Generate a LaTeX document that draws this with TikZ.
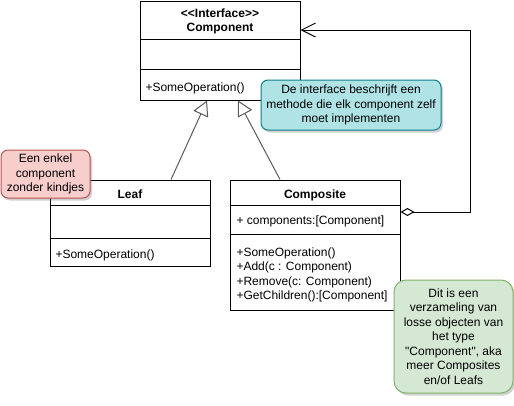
\documentclass[tikz,border=0pt]{standalone}
\usepackage{fontspec}
\newfontfamily\uifont{Liberation Sans}
\usetikzlibrary{arrows.meta, calc, shadows}

\definecolor{notered}{HTML}{F8CECC}
\definecolor{noteredline}{HTML}{B85450}
\definecolor{noteteal}{HTML}{B0E3E6}
\definecolor{notetealline}{HTML}{0E8088}
\definecolor{notegreen}{HTML}{D5E8D4}
\definecolor{notegreenline}{HTML}{82B366}

\begin{document}
\begin{tikzpicture}[x = 1pt, y = -1pt, line width = 1pt,
    every node/.style = {font = \uifont\fontsize{12}{14.5}\selectfont, inner sep = 0pt},
    title/.style = {font = \uifont\bfseries\fontsize{12}{14}\selectfont, align = center},
    classbox/.style = {draw, fill = white},
    note/.style = {draw, align = center, rounded corners = 7pt,
      drop shadow = {shadow xshift = 2pt, shadow yshift = -2.5pt, opacity = 0.3, fill = black!60}},
    inherit/.style = {draw = black!65, -{Triangle[open, length = 15pt, width = 16pt]}},
    aggregate/.style = {{Diamond[open, length = 14pt, width = 8pt]}-{Straight Barb[length = 14pt, width = 14pt]}}]

    \useasboundingbox (0, 0) rectangle (514, 405);

    \node[classbox, minimum width = 160pt, minimum height = 99pt] (component) at (220, 50.5) {};
    \draw ($(component.north west) + (0, 39)$) -- ($(component.north east) + (0, 39)$);
    \draw ($(component.north west) + (0, 69)$) -- ($(component.north east) + (0, 69)$);
    \node[title] (componenttitle) at (220, 21) {<<Interface>>\\Component};
    \node[anchor = west] (componentops) at (145, 88) {+SomeOperation()};

    \node[classbox, minimum width = 160pt, minimum height = 86.5pt] (leaf) at (130, 223.3) {};
    \draw ($(leaf.north west) + (0, 26)$) -- ($(leaf.north east) + (0, 26)$);
    \draw ($(leaf.north west) + (0, 58.7)$) -- ($(leaf.north east) + (0, 58.7)$);
    \node[title] (leaftitle) at (130, 194) {Leaf};
    \node[anchor = west] (leafops) at (55, 255) {+SomeOperation()};

    \node[classbox, minimum width = 170pt, minimum height = 130pt] (composite) at (315, 245) {};
    \draw ($(composite.north west) + (0, 26)$) -- ($(composite.north east) + (0, 26)$);
    \draw ($(composite.north west) + (0, 55)$) -- ($(composite.north east) + (0, 55)$);
    \node[title] (compositetitle) at (315, 195) {Composite};
    \node[anchor = west] (compositeattr) at (236, 221.7) {+ components:[Component]};
    \node[anchor = west, align = left] (compositeops) at (236, 275)
      {+SomeOperation()\\+Add(c : Component)\\+Remove(c: Component)\\+GetChildren():[Component]};

    \draw[inherit] ($(leaf.north) + (41, 0)$) -- ($(component.south) + (-13, 0)$);
    \draw[inherit] ($(composite.north) + (-35, 0)$) -- ($(component.south) + (18, 0)$);

    \coordinate (loopcorner) at (470, 30);
    \draw[aggregate] ($(composite.east) + (0, -33)$) -| (loopcorner) -- ($(component.east) + (0, -20.5)$);

    \node[note, fill = notered, draw = noteredline, minimum width = 89pt, minimum height = 48pt]
      (leafnote) at (45.5, 174) {Een enkel\\component\\zonder kindjes};
    \node[note, fill = noteteal, draw = notetealline, minimum width = 180pt, minimum height = 50pt]
      (interfacenote) at (351, 105) {De interface beschrijft een\\methode die elk component zelf\\moet implementen};
    \node[note, rounded corners = 12pt, fill = notegreen, draw = notegreenline, minimum width = 119pt, minimum height = 113pt]
      (childrennote) at (453.5, 336.5) {Dit is een\\verzameling van\\losse objecten van\\het type\\"Component", aka\\meer Composites\\en/of Leafs};

\end{tikzpicture}
\end{document}
